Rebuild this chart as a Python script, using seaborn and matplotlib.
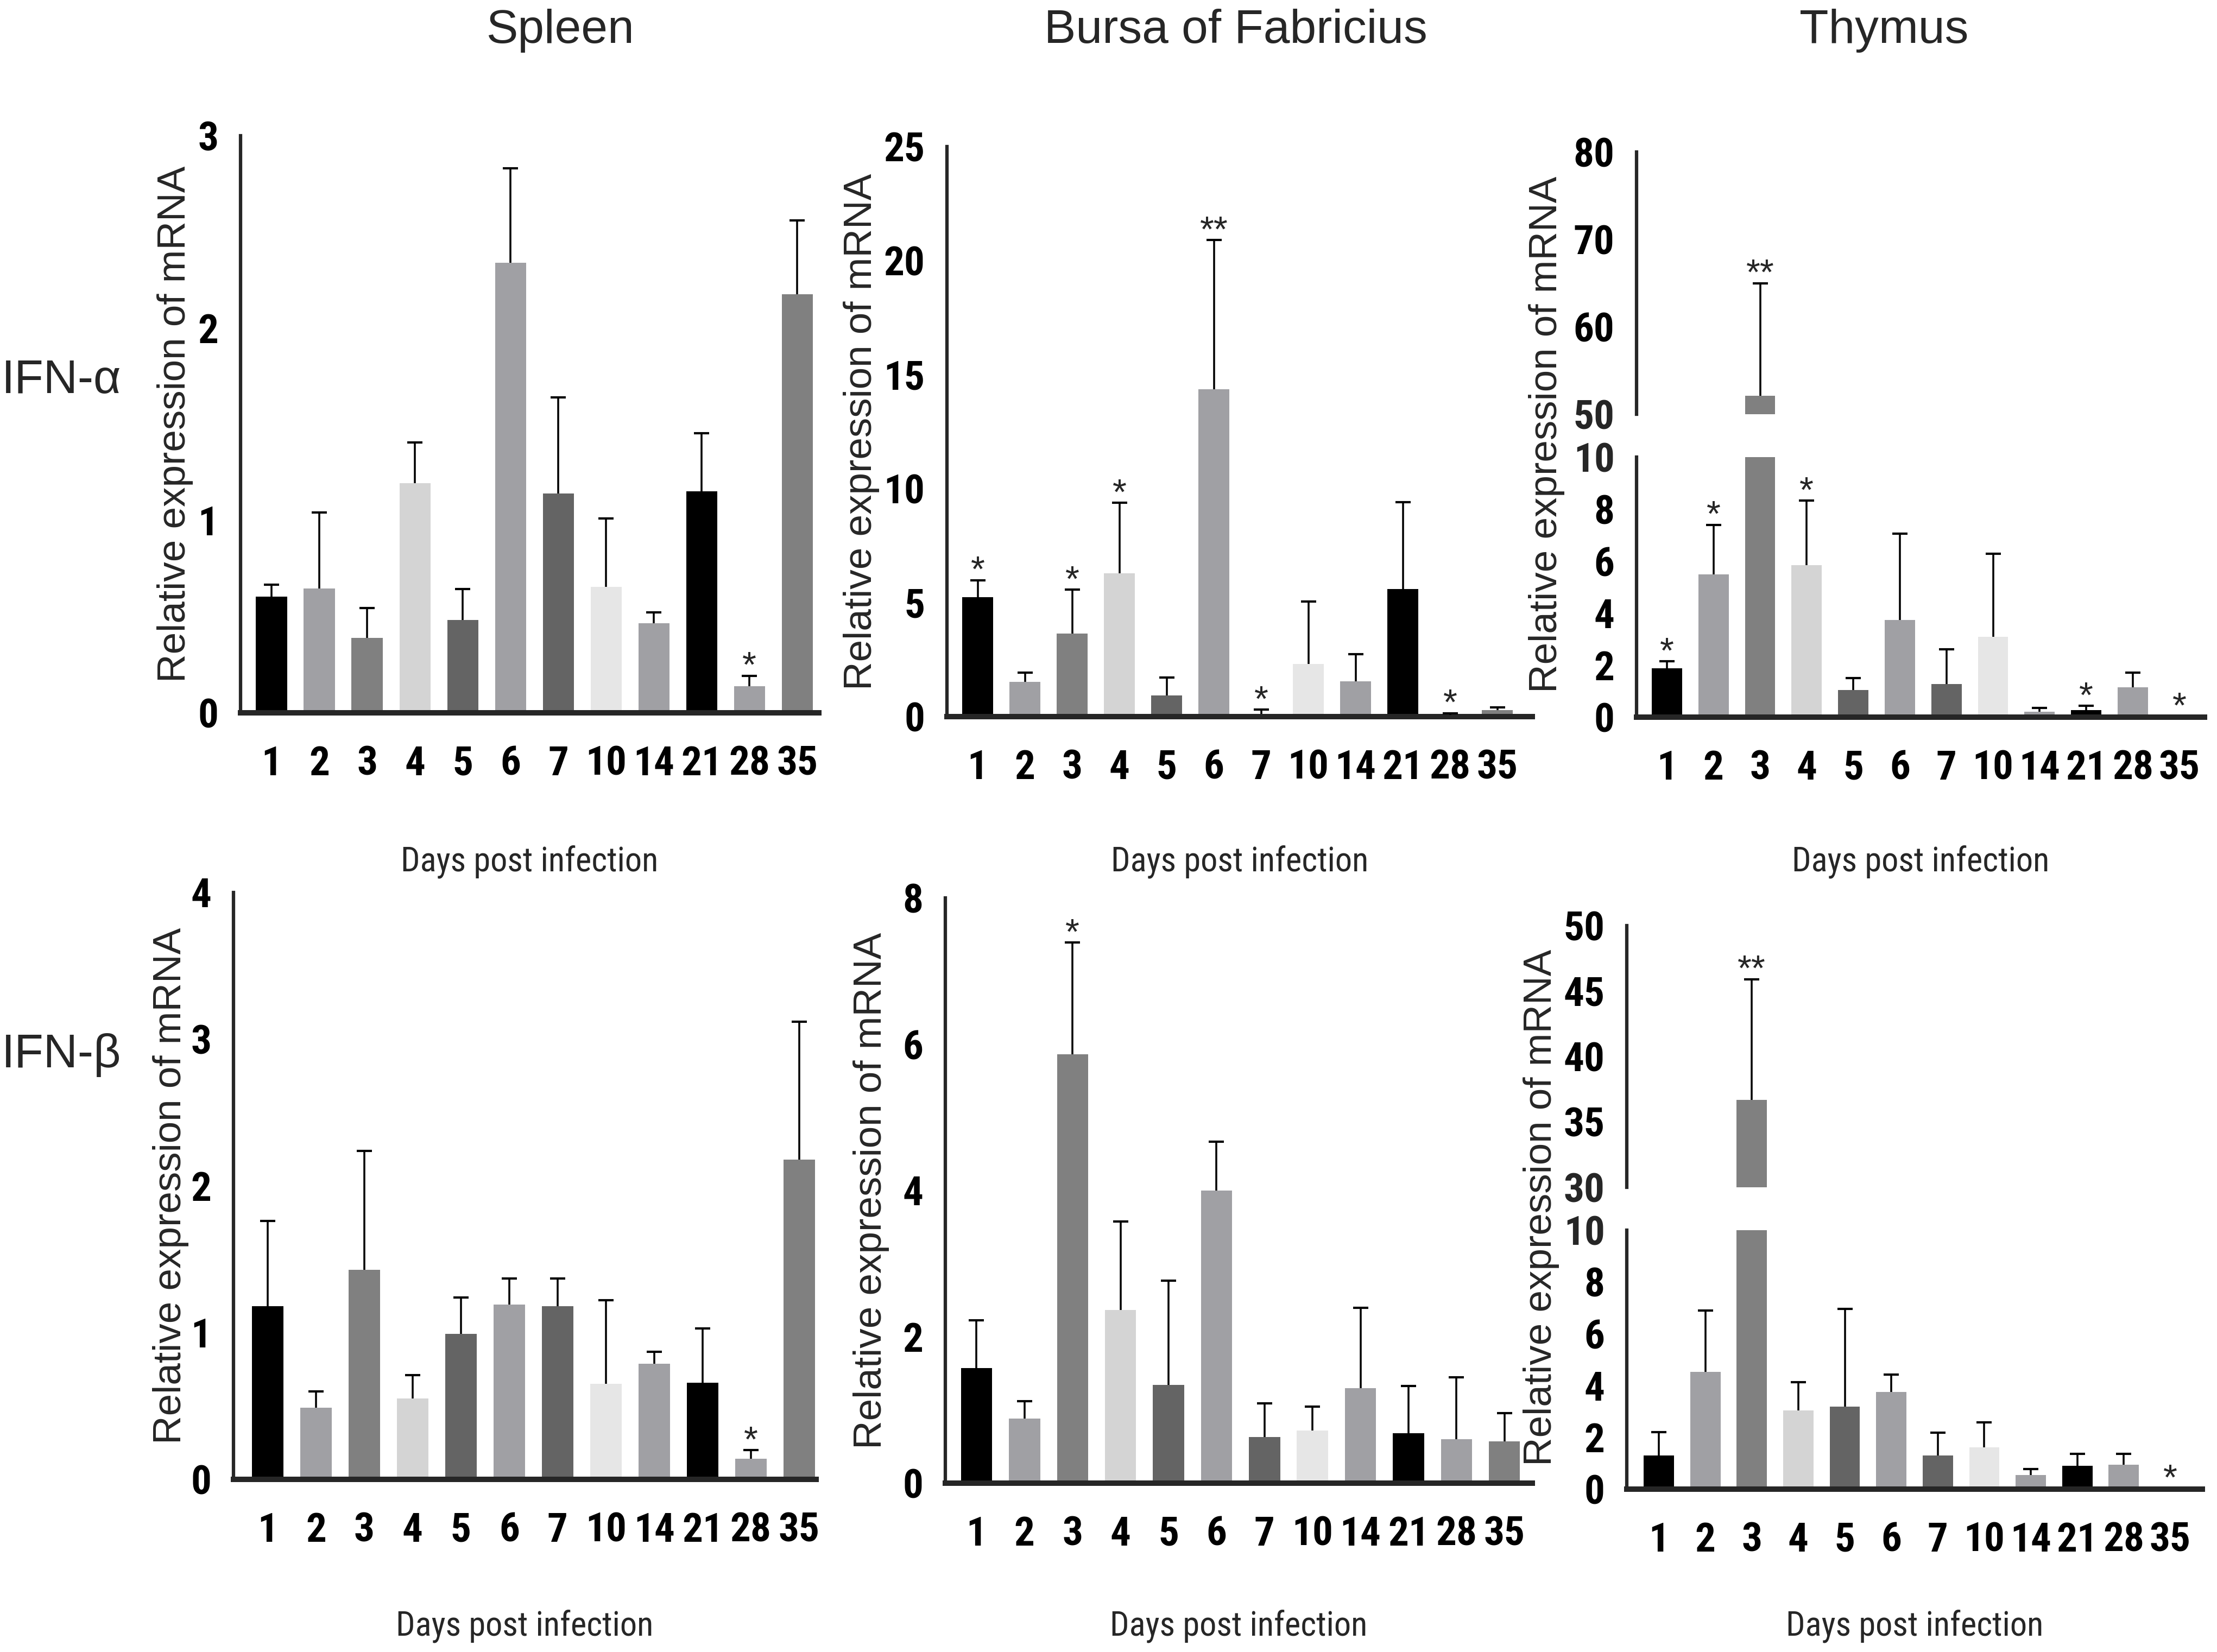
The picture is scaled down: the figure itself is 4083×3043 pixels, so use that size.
import numpy as np
import pandas as pd
import matplotlib
matplotlib.use("Agg")
import matplotlib.pyplot as plt
from matplotlib import font_manager as fm
import seaborn as sns

# ---------------- data ----------------
DAYS = ["1", "2", "3", "4", "5", "6", "7", "10", "14", "21", "28", "35"]
BAR_COLORS = ["#000000", "#a0a0a4", "#808080", "#d4d4d4", "#646464", "#a0a0a4",
              "#646464", "#e6e6e6", "#a0a0a4", "#000000", "#a0a0a4", "#808080"]

COLUMN_TITLES = ["Spleen", "Bursa of Fabricius", "Thymus"]
ROW_TITLES = ["IFN-α", "IFN-β"]
Y_LABEL = "Relative expression of mRNA"
X_LABEL = "Days post infection"

# IFN-alpha
spleen_a_mean = [0.605, 0.645, 0.39, 1.195, 0.482, 2.34, 1.14, 0.655, 0.466, 1.152, 0.139, 2.175]
spleen_a_top = [0.665, 1.04, 0.545, 1.405, 0.643, 2.83, 1.64, 1.01, 0.522, 1.453, 0.193, 2.56]
spleen_a_sig = ["", "", "", "", "", "", "", "", "", "", "*", ""]

bursa_a_mean = [5.25, 1.52, 3.65, 6.28, 0.92, 14.35, 0.12, 2.3, 1.55, 5.6, 0.08, 0.28]
bursa_a_top = [5.98, 1.94, 5.57, 9.38, 1.72, 20.9, 0.3, 5.05, 2.75, 9.4, 0.15, 0.4]
bursa_a_sig = ["*", "", "*", "*", "", "**", "*", "", "", "", "*", ""]

thymus_a_mean = [1.87, 5.5, 52.1, 5.85, 1.05, 3.74, 1.28, 3.08, 0.2, 0.28, 1.14, 0.03]
thymus_a_top = [2.15, 7.4, 65.0, 8.32, 1.5, 7.06, 2.6, 6.28, 0.35, 0.43, 1.71, 0.03]
thymus_a_sig = ["*", "*", "**", "*", "", "", "", "", "", "*", "", "*"]

# IFN-beta
spleen_b_mean = [1.18, 0.49, 1.43, 0.55, 0.99, 1.19, 1.18, 0.65, 0.79, 0.66, 0.14, 2.18]
spleen_b_top = [1.76, 0.6, 2.24, 0.71, 1.24, 1.37, 1.37, 1.22, 0.87, 1.03, 0.2, 3.12]
spleen_b_sig = ["", "", "", "", "", "", "", "", "", "", "*", ""]

bursa_b_mean = [1.57, 0.88, 5.86, 2.37, 1.34, 4.0, 0.63, 0.72, 1.3, 0.68, 0.6, 0.57]
bursa_b_top = [2.23, 1.12, 7.39, 3.58, 2.77, 4.67, 1.09, 1.05, 2.4, 1.33, 1.45, 0.96]
bursa_b_sig = ["", "", "*", "", "", "", "", "", "", "", "", ""]

thymus_b_mean = [1.3, 4.53, 36.7, 3.05, 3.19, 3.75, 1.3, 1.61, 0.54, 0.91, 0.95, 0.03]
thymus_b_top = [2.2, 6.9, 45.9, 4.12, 6.96, 4.43, 2.17, 2.58, 0.78, 1.37, 1.37, 0.03]
thymus_b_sig = ["", "", "**", "", "", "", "", "", "", "", "", "*"]

# ---------------- fonts ----------------
def has_font(name):
    try:
        fm.findfont(fm.FontProperties(family=name), fallback_to_default=False)
        return True
    except Exception:
        return False

REG = "Liberation Sans" if has_font("Liberation Sans") else "DejaVu Sans"


def _is_narrow(f):
    txt = (f.name + " " + f.fname).lower()
    st = str(f.stretch).lower()
    return ("narrow" in txt or "condensed" in txt or "condensed" in st
            or st in ("ultra-condensed", "extra-condensed", "semi-condensed"))


def _weight_num(w):
    if isinstance(w, (int, float)):
        return w
    table = {"ultralight": 200, "light": 300, "normal": 400, "regular": 400, "book": 400,
             "medium": 500, "roman": 400, "semibold": 600, "demibold": 600, "demi": 600,
             "bold": 700, "heavy": 800, "extra bold": 800, "black": 900}
    return table.get(str(w).lower(), 400)


def find_narrow(bold):
    prefs = ["liberation sans narrow", "roboto condensed", "dejavu sans condensed",
             "dejavu sans", "open sans condensed", "open sans", "noto sans", "roboto"]
    cands = [f for f in fm.fontManager.ttflist if _is_narrow(f)]
    cands = [f for f in cands if "mono" not in f.name.lower() and "serif" not in f.name.lower()
             and "italic" not in f.fname.lower() and str(f.style) == "normal"]
    if not cands:
        return None
    def score(f):
        nm = f.name.lower()
        p = len(prefs)
        for i, k in enumerate(prefs):
            if nm.startswith(k):
                p = i
                break
        w = _weight_num(f.weight)
        wd = abs(w - (700 if bold else 400))
        return (wd, p)
    best = min(cands, key=score)
    return fm.FontProperties(fname=best.fname)


_nb = find_narrow(True)
_nr = find_narrow(False)
if _nb is None:
    _nb = fm.FontProperties(family=REG, weight="bold")
    TICK_SIZE = 15
else:
    TICK_SIZE = 18
if _nr is None:
    _nr = fm.FontProperties(family=REG)


def tick_fp():
    fp = _nb.copy()
    fp.set_size(TICK_SIZE)
    return fp


def xlab_fp():
    fp = _nr.copy()
    fp.set_size(15)
    return fp


sns.set_style("white")
plt.rcParams["font.family"] = [REG, "DejaVu Sans"]

W, H = 4083, 3043
fig = plt.figure(figsize=(W / 300, H / 300), dpi=300)
fig.patch.set_facecolor("white")


def rect(l, r, b, t):
    return [l / W, 1 - b / H, (r - l) / W, (b - t) / H]


def draw_bars(ax, means, tops, sig):
    df = pd.DataFrame({"day": DAYS, "value": means})
    sns.barplot(data=df, x="day", y="value", hue="day", order=DAYS, hue_order=DAYS,
                palette=BAR_COLORS, width=0.65, saturation=1, legend=False,
                errorbar=None, linewidth=0, ax=ax)
    x = np.arange(len(DAYS))
    m = np.asarray(means, float)
    t = np.asarray(tops, float)
    has = t > m + 1e-9
    ax.vlines(x[has], m[has], t[has], color="black", lw=0.85, zorder=3)
    ax.plot(x[has], t[has], ls="none", marker="_", ms=6.5, mew=1.0, color="black", zorder=3)
    for xi, tv, s in zip(x, t, sig):
        if s:
            ax.annotate(s, xy=(xi, tv), xytext=(0, -0.5), textcoords="offset points",
                        ha="center", va="baseline", fontsize=16, annotation_clip=True)
    ax.set_xlabel("")
    ax.set_ylabel("")


def set_ticklabels_font(labels):
    for lab in labels:
        lab.set_fontproperties(tick_fp())


def style_axes(ax, xlim, bottom=True):
    ax.set_facecolor("none")
    ax.spines["top"].set_visible(False)
    ax.spines["right"].set_visible(False)
    ax.spines["left"].set_linewidth(1.5)
    ax.spines["bottom"].set_linewidth(2.4)
    ax.set_xlim(*xlim)
    ax.grid(False)
    ax.tick_params(axis="y", which="major", direction="out", length=7.7, width=1.5, pad=2, colors="black")
    if bottom:
        ax.set_xticks(range(len(DAYS)), labels=DAYS)
        set_ticklabels_font(ax.get_xticklabels())
        ax.tick_params(axis="x", direction="out", length=10.3, width=1.7, pad=4.0, colors="black")
    else:
        ax.spines["bottom"].set_visible(False)
        ax.tick_params(axis="x", bottom=False, labelbottom=False)


def single_panel(means, tops, sig, l, r, b, t, xlim, ylim, yticks, labx):
    ax = fig.add_axes(rect(l, r, b, t))
    draw_bars(ax, means, tops, sig)
    style_axes(ax, xlim)
    ax.set_ylim(*ylim)
    ax.set_yticks(yticks, labels=[str(v) for v in yticks])
    set_ticklabels_font(ax.get_yticklabels())
    ax.set_ylabel(Y_LABEL, fontsize=17.5, va="center")
    ax.yaxis.set_label_coords((labx - l) / (r - l), 0.5)
    return ax


def broken_panel(means, tops, sig, l, r, b, tl, bu, tu, xlim, up_lim, up_major, up_minor, labx):
    axL = fig.add_axes(rect(l, r, b, tl))
    draw_bars(axL, means, tops, sig)
    style_axes(axL, xlim)
    axL.set_ylim(0, 10)
    axL.set_yticks([0, 2, 4, 6, 8], labels=["0", "2", "4", "6", "8"])
    axL.set_yticks([10], labels=["10"], minor=True)
    set_ticklabels_font(axL.get_yticklabels(which="both"))
    axL.tick_params(axis="y", which="minor", direction="inout", length=7.3, width=1.5, pad=6)

    axU = fig.add_axes(rect(l, r, bu, tu))
    draw_bars(axU, means, tops, sig)
    style_axes(axU, xlim, bottom=False)
    axU.set_ylim(*up_lim)
    axU.set_yticks(up_major, labels=[str(v) for v in up_major])
    axU.set_yticks([up_minor], labels=[str(up_minor)], minor=True)
    set_ticklabels_font(axU.get_yticklabels(which="both"))
    axU.tick_params(axis="y", which="minor", direction="inout", length=7.3, width=1.5, pad=6)

    center_px = (tu + b) / 2
    axL.set_ylabel(Y_LABEL, fontsize=17.5, va="center")
    axL.yaxis.set_label_coords((labx - l) / (r - l), (b - center_px) / (b - tl))
    return axL, axU


# ---------------- row 1 : IFN-alpha ----------------
single_panel(spleen_a_mean, spleen_a_top, spleen_a_sig, 443, 1508, 1313, 250,
             (-0.648, 11.45), (0, 3), [0, 1, 2, 3], 322)
single_panel(bursa_a_mean, bursa_a_top, bursa_a_sig, 1744, 2822, 1320, 270,
             (-0.65, 11.74), (0, 25), [0, 5, 10, 15, 20, 25], 1586)
broken_panel(thymus_a_mean, thymus_a_top, thymus_a_sig, 3014, 4060, 1321, 842, 763, 280,
             (-0.653, 11.54), (50, 80), [60, 70, 80], 50, 2848)

# ---------------- row 2 : IFN-beta ----------------
single_panel(spleen_b_mean, spleen_b_top, spleen_b_sig, 430, 1503, 2725, 1644,
             (-0.708, 11.35), (0, 4), [0, 1, 2, 3, 4], 314)
single_panel(bursa_b_mean, bursa_b_top, bursa_b_sig, 1741, 2822, 2732, 1654,
             (-0.65, 11.58), (0, 8), [0, 2, 4, 6, 8], 1604)
broken_panel(thymus_b_mean, thymus_b_top, thymus_b_sig, 2996, 4056, 2743, 2266, 2187, 1705,
             (-0.69, 11.69), (30, 50), [35, 40, 45, 50], 30, 2838)

# ---------------- figure texts ----------------
for title, cx in zip(COLUMN_TITLES, [1031, 2276, 3470]):
    fig.text(cx / W, 1 - 79 / H, title, ha="center", va="baseline", fontsize=21)

fig.text(3 / W, 1 - 724 / H, ROW_TITLES[0], ha="left", va="baseline", fontsize=21)
fig.text(3 / W, 1 - 1966 / H, ROW_TITLES[1], ha="left", va="baseline", fontsize=21)

xlabel_centers = [(443 + 1508) / 2, (1744 + 2822) / 2, (3014 + 4060) / 2]
for cx in xlabel_centers:
    fig.text(cx / W, 1 - 1605 / H, X_LABEL, ha="center", va="baseline",
             fontproperties=xlab_fp())
xlabel_centers_b = [(430 + 1503) / 2, (1741 + 2822) / 2, (2996 + 4056) / 2]
for cx in xlabel_centers_b:
    fig.text(cx / W, 1 - 3012 / H, X_LABEL, ha="center", va="baseline",
             fontproperties=xlab_fp())

fig.savefig("out.png", dpi=300, facecolor="white")
